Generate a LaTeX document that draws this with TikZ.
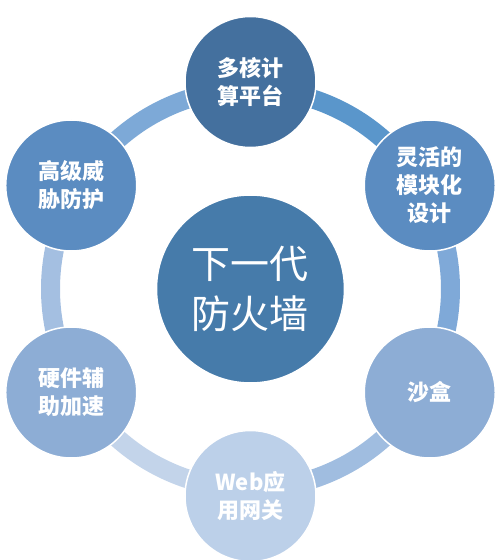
\documentclass[tikz,border=0pt]{standalone}
\usepackage{fontspec}
\newfontfamily\cjk{Noto Sans CJK SC}
\definecolor{nTop}{HTML}{44709E}
\definecolor{nUR}{HTML}{5B8CC1}
\definecolor{nLR}{HTML}{8DADD5}
\definecolor{nBot}{HTML}{BCD0E9}
\definecolor{nLL}{HTML}{8DADD5}
\definecolor{nUL}{HTML}{5B8CC1}
\definecolor{nCen}{HTML}{467BAA}
\definecolor{aA}{HTML}{5A96CB}
\definecolor{aB}{HTML}{7FA9D8}
\definecolor{aC}{HTML}{A0BDE0}
\definecolor{aD}{HTML}{C3D4EA}
\definecolor{aE}{HTML}{A4BFE1}
\definecolor{aF}{HTML}{7DA9D7}
\tikzset{
  outer/.style={circle, minimum size=131pt, inner sep=0pt, draw=white, line width=1.5pt, text=white, align=center, font=\cjk\bfseries\fontsize{22}{28}\selectfont},
  center/.style={circle, minimum size=188pt, inner sep=0pt, draw=white, line width=1.5pt, text=white, align=center, font=\cjk\fontsize{39}{50}\selectfont},
  band/.style={line width=19pt}
}
\begin{document}
\begin{tikzpicture}[x=1pt,y=1pt]
\useasboundingbox (-250.5,-271) rectangle (244.5,289);
\draw[band, aA] (90:200) arc[start angle=90, end angle=30, radius=200];
\draw[band, aB] (30:200) arc[start angle=30, end angle=-30, radius=200];
\draw[band, aC] (-30:200) arc[start angle=-30, end angle=-90, radius=200];
\draw[band, aD] (-90:200) arc[start angle=-90, end angle=-150, radius=200];
\draw[band, aE] (-150:200) arc[start angle=-150, end angle=-210, radius=200];
\draw[band, aF] (150:200) arc[start angle=150, end angle=90, radius=200];
\node[center, fill=nCen] (c) at (0,0) {下一代\\防火墙};
\node[outer, fill=nTop] (n1) at (90:207) {多核计\\算平台};
\node[outer, fill=nUR] (n2) at (30:207) {灵活的\\模块化\\设计};
\node[outer, fill=nLR] (n3) at (-30:207) {沙盒};
\node[outer, fill=nBot] (n4) at (-90:207) {Web应\\用网关};
\node[outer, fill=nLL] (n5) at (-150:207) {硬件辅\\助加速};
\node[outer, fill=nUL] (n6) at (150:207) {高级威\\胁防护};
\end{tikzpicture}
\end{document}
